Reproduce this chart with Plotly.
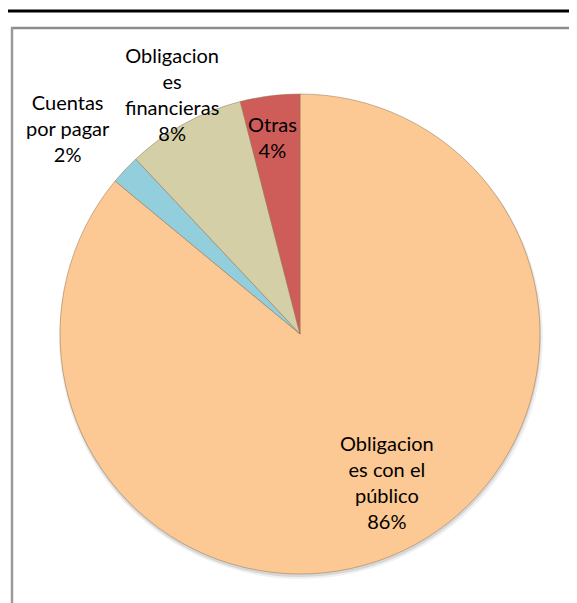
import plotly.graph_objects as go

W, H = 577, 603
OFF = 8  # page body margin of the browser

# Data
labels = ["Obligaciones con el público", "Cuentas por pagar", "Obligaciones financieras", "Otras"]
label_lines = ["Obligacion<br>es con el<br>público", "Cuentas<br>por pagar", "Obligacion<br>es<br>financieras", "Otras"]
values = [86, 2, 8, 4]
colors = ["#FCC893", "#93CEDD", "#D4CFA7", "#CE5C59"]

# label anchor positions in pixels (x, y centre)
label_pos = [(387, 482), (68, 128), (172, 94), (272, 137)]


def px(x):
    return (x - OFF) / W


def py(y):
    return 1 - (y - OFF) / H


fig = go.Figure()
fig.add_trace(go.Pie(
    labels=labels,
    values=values,
    sort=False,
    direction="clockwise",
    rotation=0,
    marker=dict(colors=colors, line=dict(color="rgba(150,115,80,0.5)", width=1)),
    textinfo="none",
    hoverinfo="label+percent",
    domain=dict(x=[px(60), px(540)], y=[py(574), py(94)]),
    showlegend=False,
))

total = sum(values)
annotations = []
for txt, v, (x, y) in zip(label_lines, values, label_pos):
    annotations.append(dict(
        x=px(x), y=py(y), xref="paper", yref="paper",
        text=f"{txt}<br>{round(v / total * 100)}%",
        showarrow=False, xanchor="center", yanchor="middle",
        font=dict(family="Lato", size=20, color="#000000"),
    ))

shapes = [
    # soft shadow below the pie
    dict(type="circle", xref="paper", yref="paper", layer="below",
         x0=px(59), x1=px(543), y0=py(579), y1=py(96),
         fillcolor="rgba(0,0,0,0.06)", line=dict(width=0)),
    dict(type="circle", xref="paper", yref="paper", layer="below",
         x0=px(60), x1=px(541), y0=py(577), y1=py(95),
         fillcolor="rgba(0,0,0,0.10)", line=dict(width=0)),
    # outer black frame
    dict(type="line", xref="paper", yref="paper", x0=px(2), x1=px(590), y0=py(11), y1=py(11),
         line=dict(color="#000000", width=3)),
    dict(type="line", xref="paper", yref="paper", x0=px(3.5), x1=px(3.5), y0=py(10), y1=py(620),
         line=dict(color="#000000", width=3)),
    # inner gray frame
    dict(type="line", xref="paper", yref="paper", x0=px(11), x1=px(590), y0=py(28), y1=py(28),
         line=dict(color="#8C8C8C", width=2.5)),
    dict(type="line", xref="paper", yref="paper", x0=px(12), x1=px(12), y0=py(27), y1=py(620),
         line=dict(color="#9A9A9A", width=2.5)),
]

fig.update_layout(
    width=W, height=H,
    margin=dict(l=0, r=0, t=0, b=0),
    paper_bgcolor="#FFFFFF",
    plot_bgcolor="#FFFFFF",
    annotations=annotations,
    shapes=shapes,
)

fig.write_html("out.html")
